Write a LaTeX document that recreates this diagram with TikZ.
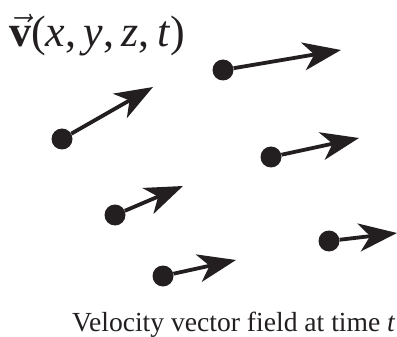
\RequirePackage{fix-cm}
\documentclass[tikz,border=0pt]{standalone}
\usepackage{fontspec}
\setmainfont{Liberation Serif}
\usetikzlibrary{arrows.meta}
\definecolor{ink}{RGB}{35,31,32}
\tikzset{
  dot/.style={circle,fill=ink,inner sep=0pt,minimum size=21pt},
  vec/.style={line width=3.8pt,ink,-{Stealth[length=38pt,width=28pt,inset=11pt]}}
}

\begin{document}
\begin{tikzpicture}[x=1pt,y=-1pt]
\useasboundingbox (0,0) rectangle (397,337);
\node[anchor=base west,inner sep=0pt,text=ink,font=\fontsize{44}{44}\selectfont] (title) at (9,47)
  {$\vec{\textbf{v}}$(\textit{x},\,\textit{y},\,\textit{z},\,\textit{t})};
% velocity arrows: base point / tip
\foreach \i/\p/\q in {1/{62,139}/{153,87}, 2/{223,70}/{341,50}, 3/{115,215}/{183,186},
                      4/{163,276}/{236,260}, 5/{271,157}/{359,138}, 6/{329,241}/{397,233}}{
  \node[dot] (p\i) at (\p) {};
  \coordinate (t\i) at (\q);
  \draw[vec] (p\i) -- (t\i);
}
\node[anchor=base west,inner sep=0pt,text=ink,font=\fontsize{27.6}{27.6}\selectfont] (caption) at (72,331)
  {Velocity vector field at time \textit{t}};
\end{tikzpicture}
\end{document}
